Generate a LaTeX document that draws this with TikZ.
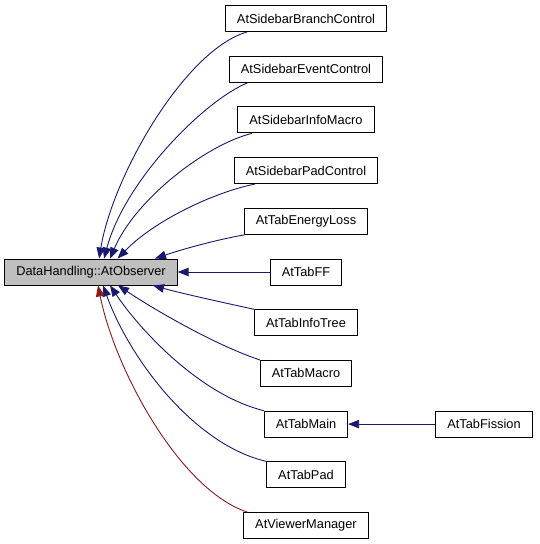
\documentclass[tikz,border=0pt]{standalone}
\usepackage{fontspec}
\setmainfont{Liberation Sans}
\usetikzlibrary{arrows.meta}
\definecolor{navyedge}{HTML}{191970}
\definecolor{rededge}{HTML}{8B1A1A}
\definecolor{basefill}{HTML}{BFBFBF}
\tikzset{
  cls/.style={draw=black, line width=0.9pt, fill=white, inner xsep=11.5pt, inner ysep=0pt,
    minimum height=26pt, font=\fontsize{12.8}{15}\selectfont, anchor=center},
  basecls/.style={cls, fill=basefill},
  inh/.style={draw=navyedge, line width=0.9pt, -{Triangle[length=11pt,width=8.5pt]}, shorten >=0pt},
  redinh/.style={inh, draw=rededge},
}
\begin{document}
\begin{tikzpicture}[x=1pt,y=-1pt]
\useasboundingbox (0,0) rectangle (539,544);
\node[basecls] (obs) at (91,272) {DataHandling::AtObserver};
\node[cls] (br) at (306,18.5) {AtSidebarBranchControl};
\node[cls] (ev) at (306,69.2) {AtSidebarEventControl};
\node[cls] (im) at (306,119.9) {AtSidebarInfoMacro};
\node[cls] (pc) at (306,170.6) {AtSidebarPadControl};
\node[cls] (el) at (306,221.3) {AtTabEnergyLoss};
\node[cls] (ff) at (306,272) {AtTabFF};
\node[cls] (it) at (306,322.7) {AtTabInfoTree};
\node[cls] (mac) at (306,373.4) {AtTabMacro};
\node[cls] (main) at (306,424.1) {AtTabMain};
\node[cls] (pad) at (306,474.8) {AtTabPad};
\node[cls] (view) at (306,525.5) {AtViewerManager};
\node[cls] (fis) at (484,424.1) {AtTabFission};

\draw[inh] ([xshift=22pt]br.south west) .. controls (185,50) and (113,175) .. ([xshift=94.7pt]obs.north west);
\draw[inh] ([xshift=19pt]ev.south west) .. controls (205,100) and (125,180) .. ([xshift=99.7pt]obs.north west);
\draw[inh] ([xshift=14.5pt]im.south west) .. controls (205,145) and (135,200) .. ([xshift=105.7pt]obs.north west);
\draw[inh] ([xshift=21pt]pc.south west) .. controls (215,192) and (155,220) .. ([xshift=113.2pt]obs.north west);
\draw[inh] ([xshift=1pt]el.south west) .. controls (215,240) and (180,250) .. ([xshift=150.7pt]obs.north west);
\draw[inh] (ff.west) -- (obs.east);
\draw[inh] (it.north west) .. controls (225,303) and (180,293) .. ([xshift=148.7pt]obs.south west);
\draw[inh] (mac.north west) .. controls (215,345) and (155,310) .. ([xshift=113.7pt]obs.south west);
\draw[inh] (main.north west) .. controls (200,395) and (140,330) .. ([xshift=105.7pt]obs.south west);
\draw[inh] (pad.north west) .. controls (195,445) and (130,360) .. ([xshift=98.7pt]obs.south west);
\draw[redinh] ([xshift=4pt]view.north west) .. controls (180,490) and (115,370) .. ([xshift=93.7pt]obs.south west);
\draw[inh] (fis.west) -- (main.east);
\end{tikzpicture}
\end{document}
